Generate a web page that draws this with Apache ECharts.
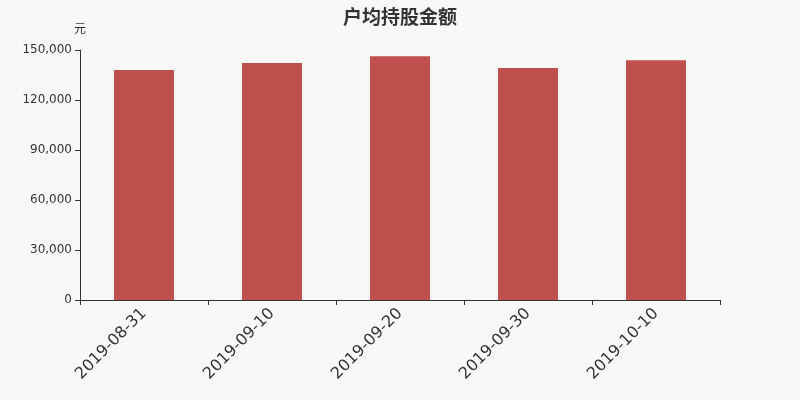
<!DOCTYPE html>
<html><head><meta charset="utf-8">
<script src="https://cdn.jsdelivr.net/npm/echarts@6/dist/echarts.min.js"></script>
<style>html,body{margin:0;padding:0;background:#f8f8f8;}#c{width:800px;height:400px;}</style>
</head><body><div id="c"></div>
<script>
var categories = ['2019-08-31','2019-09-10','2019-09-20','2019-09-30','2019-10-10'];
var values = [138000, 142200, 146200, 139200, 143800];
var yTicks = [0, 30000, 60000, 90000, 120000, 150000];

var chart = echarts.init(document.getElementById('c'));
chart.setOption({
  backgroundColor: '#f8f8f8',
  animation: false,
  title: {
    text: '户均持股金额', left: 'center', top: 2,
    textStyle: {fontSize: 19, fontWeight: 'bold', color: '#333', fontFamily: 'Noto Sans CJK SC'}
  },
  grid: {left: 80, right: 80, top: 50, bottom: 100},
  xAxis: {
    type: 'category', data: categories,
    axisLine: {lineStyle: {color: '#333'}},
    axisTick: {show: true, alignWithLabel: false, lineStyle: {color: '#333'}},
    axisLabel: {rotate: 45, fontSize: 16, color: '#333', margin: 11, fontFamily: 'DejaVu Sans'}
  },
  yAxis: {
    type: 'value', name: '元', min: yTicks[0], max: yTicks[yTicks.length-1], interval: 30000,
    nameGap: 16, nameTextStyle: {color: '#333', fontSize: 12, fontFamily: 'Noto Sans CJK SC'},
    axisLine: {show: true, lineStyle: {color: '#333'}},
    axisTick: {show: true, lineStyle: {color: '#333'}},
    splitLine: {show: false},
    axisLabel: {color: '#333', fontSize: 12, fontFamily: 'DejaVu Sans',
      formatter: function(v){ return v.toLocaleString('en-US'); }}
  },
  series: [{
    type: 'bar', data: values, barWidth: 60,
    itemStyle: {color: '#c0504d'}
  }]
});
</script></body></html>
